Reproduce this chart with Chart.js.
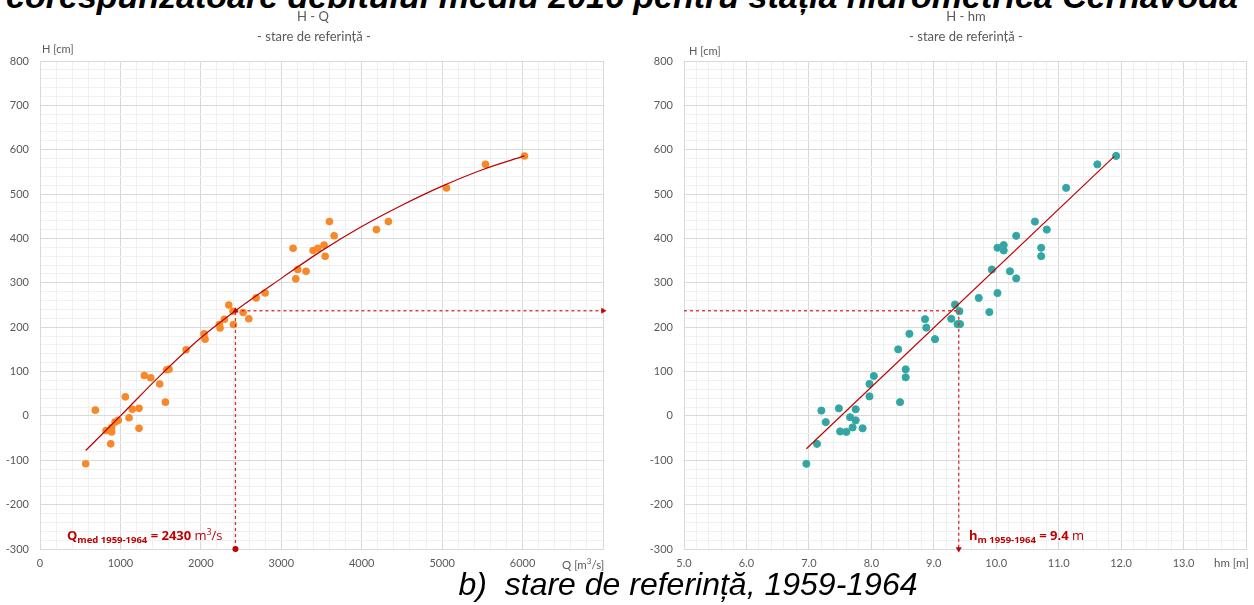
<!DOCTYPE html>
<html>
<head>
<meta charset="utf-8">
<script src="https://cdn.jsdelivr.net/npm/chart.js@4"></script>
<style>
  body { margin: 0; background: #fff; }
  #page { position: relative; width: 1254px; height: 605px; overflow: hidden; font-family: Lato, "Open Sans", sans-serif; }
  canvas { position: absolute; top: 0; }
  .txt { position: absolute; white-space: nowrap; color: #595959; }
  .big { font-family: "Liberation Sans", Arial, sans-serif; color: #000; font-style: italic; }
  .ann { color: #c00000; font-size: 13px; font-family: "Open Sans", Lato, sans-serif; }
  .ann sub { font-size: 9.5px; vertical-align: -3px; }
  .ann sup { font-size: 8.5px; vertical-align: 5px; }
</style>
</head>
<body>
<div id="page">
  <div class="txt big" style="left:0; width:1244px; text-align:center; top:-21px; font-size:34px; line-height:34px; font-weight:bold;">corespunzătoare debitului mediu 2016 pentru stația hidrometrică Cernavodă</div>

  <canvas id="chartQ" width="627" height="605" style="left:0"></canvas>
  <canvas id="chartHm" width="627" height="605" style="left:627px"></canvas>

  <div class="txt" style="left:213px; width:200px; text-align:center; top:8px; font-size:13px;">H - Q</div>
  <div class="txt" style="left:214px; width:200px; text-align:center; top:28px; font-size:13px;">- stare de referință -</div>
  <div class="txt" style="left:866px; width:200px; text-align:center; top:8px; font-size:13px;">H - hm</div>
  <div class="txt" style="left:866px; width:200px; text-align:center; top:28px; font-size:13px;">- stare de referință -</div>

  <div class="txt" style="left:42px; top:42px; font-size:11px;">H [cm]</div>
  <div class="txt" style="left:689px; top:44px; font-size:11px;">H [cm]</div>
  <div class="txt" style="left:562px; top:556px; font-size:11.5px;">Q [m<sup style="font-size:8px">3</sup>/s]</div>
  <div class="txt" style="left:1214px; top:556px; font-size:11.5px;">hm [m]</div>

  <div class="txt ann" style="left:67px; top:526px;"><b>Q<sub>med 1959-1964</sub> = 2430</b> m<sup>3</sup>/s</div>
  <div class="txt ann" style="left:969px; top:526px;"><b>h<sub>m 1959-1964</sub> = 9.4</b> m</div>

  <div class="txt big" style="left:0; width:1376px; text-align:center; top:566px; font-size:32px; line-height:36px;">b)&nbsp; stare de referință, 1959-1964</div>
</div>

<script>
// H - Q observations
const qValues = [568, 688, 821, 891, 891, 879, 933, 974, 1061, 1107, 1148, 1231, 1231, 1297, 1377, 1488, 1559, 1576, 1604, 1816,
    2040, 2052, 2230, 2239, 2293, 2347, 2400, 2405, 2525, 2596, 2687, 2799, 3147, 3205, 3180, 3308, 3396, 3454, 3532, 3545,
    3599, 3657, 4183, 4332, 5054, 5539, 6024];
const hQValues = [-108, 13, -33, -26, -36, -63, -14, -10, 43, -4, 15, 17, -28, 91, 86, 72, 31, 104, 105, 149,
    185, 173, 206, 198, 218, 250, 236, 206, 233, 219, 266, 277, 378, 330, 309, 326, 373, 378, 385, 360,
    438, 406, 420, 438, 514, 567, 586];

// H - Q fitted curve
const qCurve = [568, 1000, 1500, 2000, 2430, 3000, 3500, 4000, 4500, 5000, 5500, 6024];
const hCurve = [-78, 0, 92, 176, 237, 310, 372, 427, 475, 518, 555, 586];

// H - hm observations
const hmValues = [6.96, 7.13, 7.20, 7.27, 7.48, 7.50, 7.60, 7.66, 7.70, 7.75, 7.75, 7.86, 7.97, 7.97, 8.04, 8.43, 8.46, 8.55, 8.55, 8.61,
    8.86, 8.88, 9.02, 9.28, 9.34, 9.41, 9.38, 9.42, 9.72, 9.89, 10.02, 9.93, 10.02, 10.12, 10.12, 10.22, 10.32, 10.32, 10.62, 10.81,
    10.72, 10.72, 11.12, 11.62, 11.92];
const hHmValues = [-108, -63, 12, -14, 17, -35, -36, -3, -26, 15, -10, -28, 72, 44, 90, 150, 31, 105, 87, 185,
    218, 199, 173, 219, 251, 236, 207, 207, 266, 234, 277, 330, 379, 385, 373, 326, 406, 310, 438, 420,
    379, 360, 514, 567, 586];

// H - hm fitted line
const hmLine = [6.96, 11.89];
const hLine = [-74, 585];

// reference values 1959-1964
const qMed = 2430;
const hmMed = 9.4;
const hMed = 237;

// axis ranges
const hTicks = { min: -300, max: 800, major: 100, minor: 20 };
const qTicks = { min: 0, max: 7000, major: 1000, minor: 200 };
const hmTicks = { min: 5, max: 14, major: 1, minor: 0.2 };

const toPoints = (xs, ys) => xs.map((x, i) => ({ x: x, y: ys[i] }));
const isMajor = (v, step) => Math.abs(v / step - Math.round(v / step)) < 1e-6;

const gridColor = step => ctx => isMajor(ctx.tick.value, step) ? "#d9d9d9" : "#f0f0f0";
const tickFont = { family: "Lato, 'Open Sans', sans-serif", size: 11 };

const buildChart = (id, cfg) => {
    const ctx = document.getElementById(id).getContext("2d");
    return new Chart(ctx, {
        type: "scatter",
        data: { datasets: cfg.datasets },
        options: {
            responsive: false,
            animation: false,
            events: [],
            layout: { padding: { top: 61, right: cfg.padRight, bottom: 0, left: 0 } },
            plugins: { legend: { display: false }, tooltip: { enabled: false } },
            scales: {
                x: {
                    type: "linear",
                    min: cfg.xTicks.min,
                    max: cfg.xTicks.max,
                    afterFit: s => { s.height = 56; },
                    grid: { color: gridColor(cfg.xTicks.major), drawTicks: false, lineWidth: 1 },
                    border: { color: "#d9d9d9" },
                    ticks: {
                        stepSize: cfg.xTicks.minor,
                        autoSkip: false,
                        maxRotation: 0,
                        padding: 8,
                        color: "#595959",
                        font: tickFont,
                        callback: v => (isMajor(v, cfg.xTicks.major) && v < cfg.xTicks.max) ? cfg.xLabel(v) : ""
                    }
                },
                y: {
                    type: "linear",
                    min: hTicks.min,
                    max: hTicks.max,
                    afterFit: s => { s.width = cfg.yWidth; },
                    grid: { color: gridColor(hTicks.major), drawTicks: false, lineWidth: 1 },
                    border: { color: "#d9d9d9" },
                    ticks: {
                        stepSize: hTicks.minor,
                        autoSkip: false,
                        padding: 11,
                        color: "#595959",
                        font: tickFont,
                        callback: v => isMajor(v, hTicks.major) ? String(Math.round(v)) : ""
                    }
                }
            }
        }
    });
};

const dashRed = "#d92b2b";

// Left chart: H - Q
buildChart("chartQ", {
    padRight: 24,
    yWidth: 40,
    xTicks: qTicks,
    xLabel: v => String(Math.round(v)),
    datasets: [
        {
            data: toPoints(qCurve, hCurve),
            showLine: true,
            borderColor: "#c00000",
            borderWidth: 1.2,
            cubicInterpolationMode: "monotone",
            pointRadius: 0
        },
        {
            // vertical reading line with arrow up
            data: toPoints([qMed, qMed], [hTicks.min, hMed]),
            showLine: true,
            borderColor: dashRed,
            borderWidth: 1.3,
            borderDash: [3, 3],
            pointStyle: ["circle", "triangle"],
            pointRadius: [3, 3.5],
            pointBackgroundColor: "#c00000",
            pointBorderWidth: 0,
            clip: false
        },
        {
            // horizontal reading line with arrow right
            data: toPoints([qMed, qTicks.max], [hMed, hMed]),
            showLine: true,
            borderColor: dashRed,
            borderWidth: 1.3,
            borderDash: [3, 3],
            pointStyle: "triangle",
            pointRadius: [0, 3.5],
            rotation: 90,
            pointBackgroundColor: "#c00000",
            pointBorderWidth: 0,
            clip: false
        },
        {
            data: toPoints(qValues, hQValues),
            pointRadius: 3.8,
            pointBackgroundColor: "#f7892b",
            pointBorderColor: "#f7892b",
            pointBorderWidth: 0
        }
    ]
});

// Right chart: H - hm
buildChart("chartHm", {
    padRight: 5,
    yWidth: 57,
    xTicks: hmTicks,
    xLabel: v => v.toFixed(1),
    datasets: [
        {
            data: toPoints(hmLine, hLine),
            showLine: true,
            borderColor: "#c00000",
            borderWidth: 1.2,
            pointRadius: 0
        },
        {
            // horizontal reading line
            data: toPoints([hmTicks.min, hmMed], [hMed, hMed]),
            showLine: true,
            borderColor: dashRed,
            borderWidth: 1.3,
            borderDash: [3, 3],
            pointRadius: 0,
            clip: false
        },
        {
            // vertical reading line with arrow down
            data: toPoints([hmMed, hmMed], [hMed, hTicks.min]),
            showLine: true,
            borderColor: dashRed,
            borderWidth: 1.3,
            borderDash: [3, 3],
            pointStyle: "triangle",
            pointRadius: [0, 3.5],
            rotation: 180,
            pointBackgroundColor: "#c00000",
            pointBorderWidth: 0,
            clip: false
        },
        {
            data: toPoints(hmValues, hHmValues),
            pointRadius: 3.6,
            pointBackgroundColor: "#3a9fae",
            pointBorderColor: "#2cb58c",
            pointBorderWidth: 1
        }
    ]
});
</script>
</body>
</html>
